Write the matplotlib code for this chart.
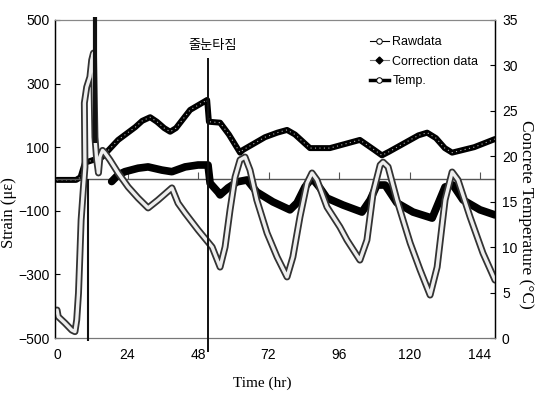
import matplotlib
matplotlib.use("Agg")
import matplotlib.pyplot as plt
from matplotlib.lines import Line2D

# --- data ---
raw_t = [0, 0.4, 2.7, 5, 6.1, 6.7, 7.3, 7.8, 8.2, 9.0, 9.5, 9.3, 10.1, 11.2, 11.8, 12.4,
         12.9, 13.5, 14.1, 14.6, 15.5, 16.3, 18, 20.8, 24.2, 27.6, 31, 34.4, 39.1, 41.2,
         43.6, 48, 52.8, 55.5, 57.2, 58.9, 60.6, 62.3, 64, 65.7, 68, 71.5, 74.9, 78.3,
         80.3, 82.7, 85.1, 86.8, 88.5, 91.9, 96.3, 98.7, 103.1, 105.5, 107.6, 110, 111,
         112.7, 115.7, 120.2, 123.6, 127, 129.4, 132.1, 134.5, 136.5, 140.6, 145, 149.1]
raw_strain = [-412, -433, -453, -475, -480, -443, -359, -233, -129, -25, 38, 239, 289, 321, 374, 396,
              132, 60, 19, 70, 90, 82, 60, 19, -25, -60, -91, -66, -28, -76,
              -107, -160, -214, -277, -214, -97, 6, 60, 69, 28, -66, -170, -245, -308,
              -245, -119, -13, 19, -3, -88, -151, -192, -255, -192, -44, 44, 53,
              38, -66, -201, -286, -365, -277, -66, 22, -3, -119, -233, -318]

corr_t = [18.6, 20.8, 23.1, 27.6, 31, 35.7, 39.1, 43.6, 48, 51.4, 52.1, 54.8, 55.5, 58.2,
          61.3, 64.7, 68, 73.5, 79.3, 81.7, 84.4, 86.8, 89.5, 91.9, 97.4, 103.8, 106.6,
          108.9, 111.7, 115.7, 121.2, 127.7, 132.1, 134.8, 138.2, 144, 149.1]
corr_strain = [-8, 13, 23, 34, 38, 28, 23, 38, 44, 44, -13, -41, -50, -28,
               -9, -3, -41, -72, -97, -75, -25, 3, -28, -60, -82, -104, -66,
               -19, -19, -75, -104, -123, -25, -19, -66, -97, -113]

temp_t = [0, 6.5, 8.0, 9.5, 15.3, 20.8, 26.6, 29.0, 31.7, 34.0, 36.5, 38.5, 40.5, 45.3,
          51.1, 51.7, 55.5, 58.5, 62.3, 63.3, 70.8, 75.0, 78.3, 81.0, 86.1, 92.9, 103.1,
          108.0, 110.6, 113.0, 118.0, 123.0, 126.0, 129.0, 132.0, 134.5, 137.0, 142.0, 149.1]
temp_c = [17.4, 17.4, 17.7, 19.3, 19.9, 21.8, 23.2, 23.9, 24.3, 23.8, 23.1, 22.7, 23.1, 25.1,
          26.2, 23.8, 23.7, 22.4, 20.4, 20.7, 22.1, 22.6, 22.9, 22.4, 20.9, 20.9, 21.8,
          20.7, 20.1, 20.5, 21.4, 22.3, 22.6, 22.0, 20.9, 20.4, 20.6, 21.0, 21.9]

x_ticks = [0, 24, 48, 72, 96, 120, 144]
strain_ticks = [-500, -300, -100, 100, 300, 500]
temp_ticks = [0, 5, 10, 15, 20, 25, 30, 35]

# event markers (time, bottom strain, top strain, width)
event_t = [10.6, 12.9, 51.4]
event_lo = [-510, 113, -544]
event_hi = [0, 509, 380]
event_lw = [1.5, 3.0, 1.4]
event_label = "줄눈타짐"

sans = ["Liberation Sans", "DejaVu Sans"]
serif = ["Liberation Serif", "DejaVu Serif"]

fig = plt.figure(figsize=(5.37, 3.95), dpi=100)
ax = fig.add_axes([0.1024, 0.1443, 0.8194, 0.8051])
ax2 = ax.twinx()
ax.set_zorder(ax2.get_zorder() + 1)
ax.patch.set_visible(False)

# temperature (right axis)
ax2.plot(temp_t, temp_c, color="black", lw=4.3, solid_capstyle="round", solid_joinstyle="round")
ax2.plot(temp_t, temp_c, color="white", lw=0.8, ls=(0, (1, 3)), alpha=0.7)

# zero line with small ticks
ax.axhline(0, color="#555555", lw=1.0, zorder=1)
ax.plot(x_ticks[1:], [0] * (len(x_ticks) - 1), ls="", marker=2, ms=5, mew=0.8, color="#555555")

# correction data
ax.plot(corr_t, corr_strain, color="black", lw=5.5, solid_joinstyle="round", solid_capstyle="round")

# raw data: hollow chain look
ax.plot(raw_t, raw_strain, color="#333333", lw=5.0, solid_joinstyle="round", solid_capstyle="round")
ax.plot(raw_t, raw_strain, color="#eeeeee", lw=2.4, solid_joinstyle="round", solid_capstyle="round")

# event lines
for t, lo, hi, lw in zip(event_t, event_lo, event_hi, event_lw):
    ax.vlines(t, lo, hi, color="#111111", lw=lw, clip_on=False, zorder=5)
ax.text(event_t[2] + 1.7, 421, event_label, ha="center", va="center", fontsize=9.5,
        family=["Noto Sans CJK KR", "DejaVu Sans"])

ax.set_xlim(-0.7, 149.1)
ax.set_ylim(-500, 500)
ax2.set_ylim(0, 35)

ax.set_xticks(x_ticks)
ax.set_yticks(strain_ticks)
ax2.set_yticks(temp_ticks)
ax.tick_params(axis="x", length=0, pad=7)
ax.tick_params(axis="y", direction="in", length=3.5, pad=4)
ax2.tick_params(axis="y", direction="in", length=3.5, pad=5)
for lab in ax.get_xticklabels() + ax.get_yticklabels() + ax2.get_yticklabels():
    lab.set_family(sans)
    lab.set_fontsize(10)

for a in (ax, ax2):
    a.spines["top"].set_color("#888888")
    a.spines["top"].set_linestyle((0, (2, 1)))
    a.spines["top"].set_linewidth(0.8)
    a.spines["bottom"].set_color("#777777")
    a.spines["bottom"].set_linewidth(0.8)
    a.spines["left"].set_linewidth(0.9)
    a.spines["right"].set_linewidth(0.9)

ax.set_ylabel("Strain (με)", family=serif, fontsize=12)
ax.yaxis.set_label_coords(-0.086, 0.393)
ax2.set_ylabel("Concrete Temperature (°C)", family=serif, fontsize=12.5, rotation=-90, va="center")
ax2.yaxis.set_label_coords(1.07, 0.39)
ax.set_xlabel("Time (hr)", family=serif, fontsize=11)
ax.xaxis.set_label_coords(0.47, -0.122)

handles = [
    Line2D([], [], color="black", lw=0.8, marker="o", ms=4, mfc="white", mec="black", mew=0.7),
    Line2D([], [], color="#777777", lw=0.8, marker="D", ms=3.5, mfc="black", mec="black"),
    Line2D([], [], color="black", lw=2.5, marker="o", ms=4, mfc="white", mec="black", mew=0.7),
]
ax.legend(handles, ["Rawdata", "Correction data", "Temp."], loc="upper left",
          bbox_to_anchor=(0.69, 0.985), frameon=False, handlelength=1.5, handletextpad=0.3,
          labelspacing=0.6, prop={"family": sans, "size": 9})

fig.savefig("out.png", dpi=100)
